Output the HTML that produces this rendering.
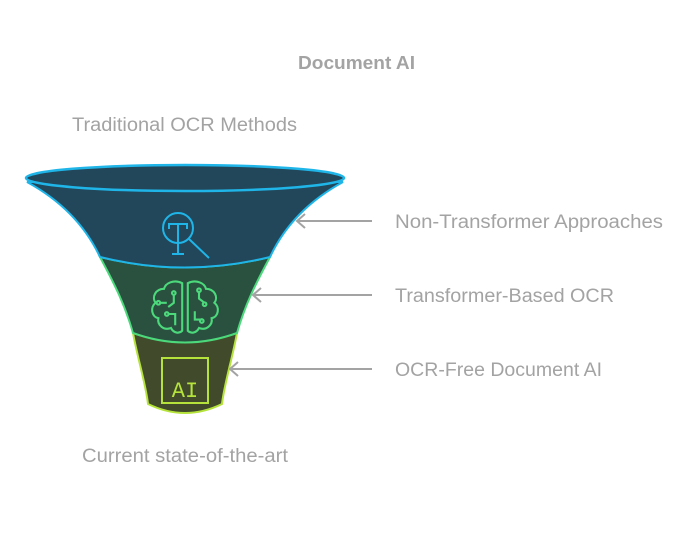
<!DOCTYPE html>
<html><head><meta charset="utf-8"><style>
html,body{margin:0;padding:0;background:#fff;}
body{width:700px;height:529px;overflow:hidden;font-family:"Liberation Sans",sans-serif;}
</style></head><body>
<svg width="700" height="529" viewBox="0 0 700 529" xmlns="http://www.w3.org/2000/svg" font-family="Liberation Sans, sans-serif">
<text x="298" y="69" textLength="117" lengthAdjust="spacingAndGlyphs" font-size="18" font-weight="bold" fill="#a3a3a3">Document AI</text>
<text x="72" y="131" textLength="225" lengthAdjust="spacingAndGlyphs" font-size="19" fill="#a3a3a3">Traditional OCR Methods</text>
<text x="82" y="462" textLength="206" lengthAdjust="spacingAndGlyphs" font-size="19" fill="#a3a3a3">Current state-of-the-art</text>
<text x="395" y="228" textLength="268" lengthAdjust="spacingAndGlyphs" font-size="19" fill="#a3a3a3">Non-Transformer Approaches</text>
<text x="395" y="302" textLength="219" lengthAdjust="spacingAndGlyphs" font-size="19" fill="#a3a3a3">Transformer-Based OCR</text>
<text x="395" y="376" textLength="207" lengthAdjust="spacingAndGlyphs" font-size="19" fill="#a3a3a3">OCR-Free Document AI</text>
<path d="M133,333 Q185,350 237,333 C232,360 224,385 222,404 Q185,422 148,404 C146,385 138,360 133,333 Z" fill="#414a2a" stroke="#b5e33c" stroke-width="2"/>
<path d="M100,257 Q185,278 270,257 C255,285 245,305 237,333 Q185,352 133,333 C125,305 115,285 100,257 Z" fill="#2a5040" stroke="#4cd97b" stroke-width="2"/>
<path d="M27,182 C60,200 85,225 100,257 Q185,278 270,257 C285,225 310,200 343,182 Z" fill="#22475a" stroke="#1fb5e8" stroke-width="2"/>
<ellipse cx="185" cy="178" rx="159" ry="13" fill="#22475a" stroke="#1fb5e8" stroke-width="2.5"/>
<g fill="none" stroke="#1fb5e8" stroke-width="2">
<circle cx="178" cy="228" r="15"/>
<line x1="189" y1="239" x2="209" y2="258"/>
<path d="M169,229 v-5 h18 v5 M178,224 v30 M172,254 h12"/>
</g>
<g fill="none" stroke="#4cd97b" stroke-width="1.5" transform="translate(185,307) scale(1.4) translate(-185,-307)">
<path d="M183,290 c-6,-3 -12,0 -13,4 c-6,0 -9,6 -6,10 c-4,3 -3,10 2,11 c-1,5 4,9 9,7 c2,4 6,4 8,2 z"/>
<path d="M187,290 c6,-3 12,0 13,4 c6,0 9,6 6,10 c4,3 3,10 -2,11 c1,5 -4,9 -9,7 c-2,4 -6,4 -8,2 z"/>
<path d="M177,298 v6 l-4,3 M173,312 h5 v8 M195,296 v5 l4,3 M192,310 v6 h5 M172,304 l-5,0"/>
<circle cx="177" cy="297" r="1.3"/><circle cx="195" cy="295" r="1.3"/><circle cx="199" cy="305" r="1.3"/><circle cx="197" cy="317" r="1.3"/><circle cx="172" cy="312" r="1.3"/><circle cx="166" cy="304" r="1.3"/>
</g>
<rect x="162" y="358" width="46" height="45" fill="none" stroke="#b5e33c" stroke-width="2"/>
<text x="185" y="397" text-anchor="middle" font-family="Liberation Mono, monospace" font-size="22" fill="#b5e33c">AI</text>
<g fill="none" stroke="#a3a3a3" stroke-width="2">
<path d="M372,221 H297 M305,214 l-8,7 8,7"/>
<path d="M372,295 H253 M261,288 l-8,7 8,7"/>
<path d="M372,369 H230 M238,362 l-8,7 8,7"/>
</g>
</svg>
</body></html>
